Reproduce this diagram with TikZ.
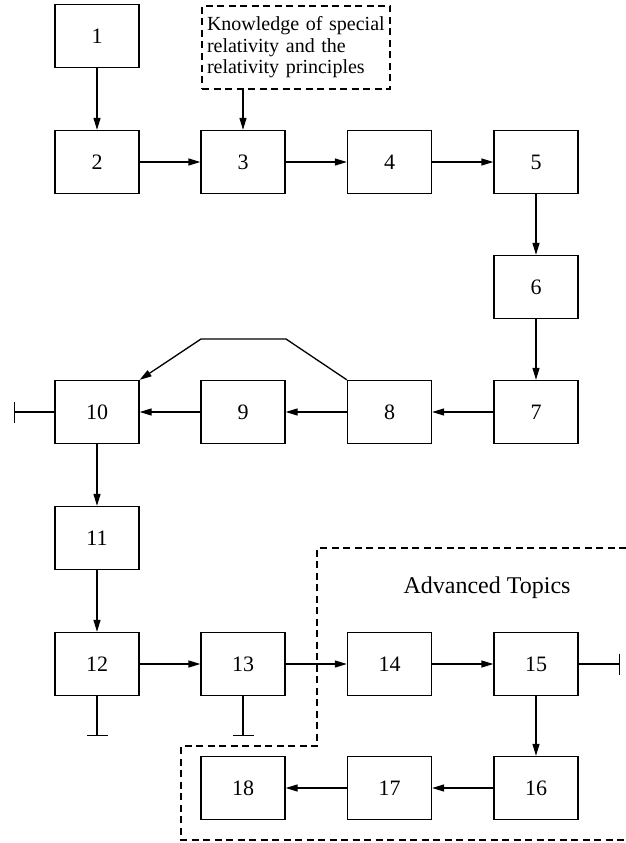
\documentclass[tikz,border=0pt]{standalone}
\usepackage{fontspec}
\setmainfont{Liberation Serif}
\usetikzlibrary{arrows.meta}
\begin{document}
\begin{tikzpicture}[x=1pt,y=-1pt,
  block/.style={draw, line width=1.3pt, minimum width=84pt, minimum height=63pt,
    inner sep=0pt, font=\fontsize{22}{26}\selectfont},
  flow/.style={line width=1.3pt, -{Triangle[length=12pt,width=7pt]}},
  stop/.style={line width=1.3pt, -{Bar[width=21pt]}},
  region/.style={line width=1.3pt, dash pattern=on 7pt off 4.5pt}]
\useasboundingbox (0,0) rectangle (626,843);

% numbered blocks
\node[block] (b1)  at (97,36)    {1};
\node[block] (b2)  at (97,162)   {2};
\node[block] (b3)  at (243,162)  {3};
\node[block] (b4)  at (389.5,162){4};
\node[block] (b5)  at (536,162)  {5};
\node[block] (b6)  at (536,287)  {6};
\node[block] (b7)  at (536,412)  {7};
\node[block] (b8)  at (389.5,412){8};
\node[block] (b9)  at (243,412)  {9};
\node[block] (b10) at (97,412)   {10};
\node[block] (b11) at (97,538)   {11};
\node[block] (b12) at (97,664)   {12};
\node[block] (b13) at (243,664)  {13};
\node[block] (b14) at (389.5,664){14};
\node[block] (b15) at (536,664)  {15};
\node[block] (b16) at (536,788)  {16};
\node[block] (b17) at (389.5,788){17};
\node[block] (b18) at (243,788)  {18};

% prerequisite note
\node[region, draw, minimum width=188pt, minimum height=83pt, text width=178pt,
  inner xsep=5pt, inner ysep=0pt, align=left,
  font=\fontsize{20}{21.5}\selectfont] (know) at (296,47.5)
  {Knowledge of special\\relativity and the\\relativity principles};

% advanced topics region
\draw[region] (626,548) -- (317,548) -- (317,746) -- (181,746) -- (181,840) -- (626,840);
\node[font=\fontsize{24}{28}\selectfont] (adv) at (487,588) {Advanced Topics};

% flow
\draw[flow] (b1) -- (b2);
\draw[flow] (know.south -| b3) -- (b3.north);
\draw[flow] (b2) -- (b3);
\draw[flow] (b3) -- (b4);
\draw[flow] (b4) -- (b5);
\draw[flow] (b5) -- (b6);
\draw[flow] (b6) -- (b7);
\draw[flow] (b7) -- (b8);
\draw[flow] (b8) -- (b9);
\draw[flow] (b9) -- (b10);
\draw[flow] (b8.north west) -- (286,339) -- (201,339) -- (b10.north east);
\draw[flow] (b10) -- (b11);
\draw[flow] (b11) -- (b12);
\draw[flow] (b12) -- (b13);
\draw[flow] (b13) -- (b14);
\draw[flow] (b14) -- (b15);
\draw[flow] (b15) -- (b16);
\draw[flow] (b16) -- (b17);
\draw[flow] (b17) -- (b18);

% dead ends
\coordinate (e10) at (14,412);
\coordinate (e12) at (97,736);
\coordinate (e13) at (243,736);
\coordinate (e15) at (620,664);
\draw[stop] (b10.west) -- (e10);
\draw[stop] (b12.south) -- (e12);
\draw[stop] (b13.south) -- (e13);
\draw[stop] (b15.east) -- (e15);
\end{tikzpicture}
\end{document}
